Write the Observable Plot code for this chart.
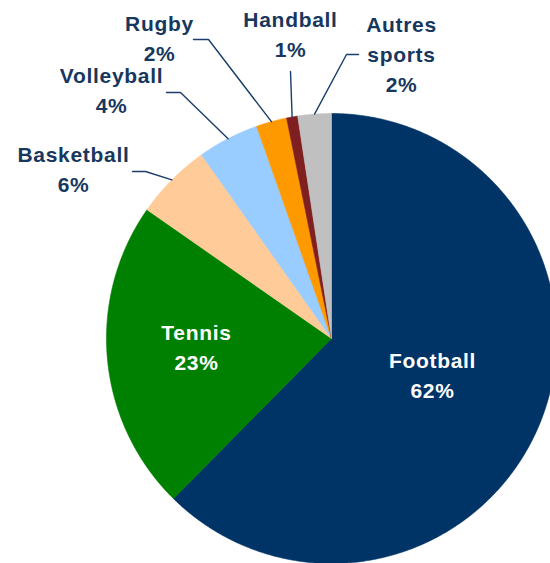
<!DOCTYPE html>
<html>
<head>
<meta charset="utf-8">
<script src="https://cdn.jsdelivr.net/npm/d3@7"></script>
<script src="https://cdn.jsdelivr.net/npm/@observablehq/plot@0.6"></script>
<style>
  html, body { margin: 0; padding: 0; background: #fff; }
  #chart { width: 550px; height: 563px; overflow: hidden; }
</style>
</head>
<body>
<div id="chart"></div>
<script>
// ---- Data ----
const sports = ["Football", "Tennis", "Basketball", "Volleyball", "Rugby", "Handball", "Autres sports"];
const shares = [62.4, 22.3, 5.5, 4.4, 2.2, 0.8, 2.4];
const labelTexts = ["Football\n62%", "Tennis\n23%", "Basketball\n6%", "Volleyball\n4%", "Rugby\n2%", "Handball\n1%", "Autres\nsports\n2%"];
const sliceColors = ["#003366", "#008000", "#FFCC99", "#99CCFF", "#FF9900", "#7F1F1F", "#C0C0C0"];

// ---- Layout (annotation placement, offsets from pie centre) ----
const R = 225;
const fontSize = 21;
const lineHeight = 30 / 21;
// label centre x and first-line baseline y
const labelPos = [
  [101, 30], [-135, 2], [-258, -176], [-220, -255], [-172, -307], [-41, -311], [70, -306]
];
// leader line start / elbow points (null for inside labels)
const leaderPts = [
  null, null,
  [[-199, -167], [-186, -167]],
  [[-165, -246], [-151, -246]],
  [[-138, -299], [-123, -299]],
  [[-41, -267]],
  [[27, -284], [15, -284]]
];

const pie = d3.pie().sort(null).value(d => d)(shares);
const pt = (a, r) => [r * Math.sin(a), -r * Math.cos(a)];

const slicePts = [];
pie.forEach((p, i) => {
  slicePts.push({name: sports[i], x: 0, y: 0});
  const n = Math.max(2, Math.ceil((p.endAngle - p.startAngle) / (Math.PI / 360)));
  for (let k = 0; k <= n; k++) {
    const a = p.startAngle + (p.endAngle - p.startAngle) * k / n;
    const [x, y] = pt(a, R);
    slicePts.push({name: sports[i], x, y});
  }
  slicePts.push({name: sports[i], x: 0, y: 0});
});

const leaders = [];
pie.forEach((p, i) => {
  if (!leaderPts[i]) return;
  leaderPts[i].forEach(([x, y]) => leaders.push({name: sports[i], x, y}));
  const [x, y] = pt((p.startAngle + p.endAngle) / 2, R);
  leaders.push({name: sports[i], x, y});
});

const labels = sports.map((s, i) => ({
  name: s,
  text: labelTexts[i],
  x: labelPos[i][0],
  y: labelPos[i][1] - 0.71 * lineHeight * fontSize,
  inside: i < 2
}));

const chart = Plot.plot({
  width: 550,
  height: 563,
  margin: 0,
  x: {domain: [-331, 219], range: [0, 550], axis: null},
  y: {domain: [-338, 225], range: [0, 563], axis: null},
  color: {domain: sports, range: sliceColors},
  style: {background: "#fff", fontFamily: "'Liberation Sans', Arial, sans-serif"},
  marks: [
    Plot.line(slicePts, {x: "x", y: "y", z: "name", fill: "name", stroke: "name", strokeWidth: 0.6, curve: "linear"}),
    Plot.line(leaders, {x: "x", y: "y", z: "name", stroke: "#1A3D6B", strokeWidth: 1.4}),
    Plot.text(labels, {
      x: "x", y: "y", text: "text",
      fill: d => d.inside ? "#ffffff" : "#17375E",
      fontSize: fontSize, fontWeight: "bold",
      lineAnchor: "top", lineHeight: lineHeight, textAnchor: "middle"
    })
  ]
});
chart.querySelectorAll("text").forEach(t => t.style.letterSpacing = "0.7px");
document.getElementById("chart").appendChild(chart);
</script>
</body>
</html>
